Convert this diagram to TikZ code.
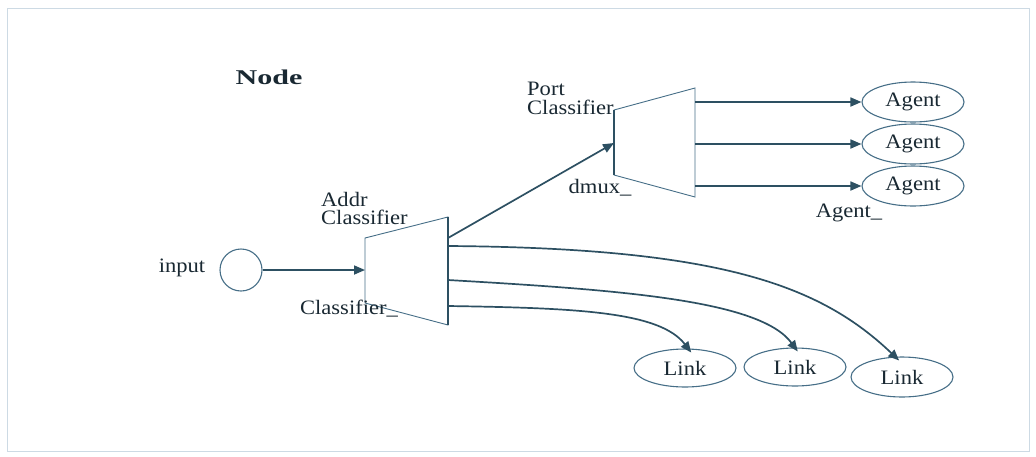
\documentclass[tikz,border=0pt]{standalone}
\usepackage{fontspec}
\setmainfont{Liberation Serif}[FakeStretch=1.1, Ligatures=NoCommon]
\usetikzlibrary{arrows.meta,shapes.geometric}
\definecolor{inkline}{RGB}{45,80,98}
\definecolor{shapeline}{RGB}{70,110,135}
\definecolor{inktext}{RGB}{25,40,50}
\definecolor{framecol}{RGB}{205,218,228}
\tikzset{
  every node/.style={text=inktext, font=\fontsize{20.5}{18.5}\selectfont},
  label/.style={inner sep=0pt},
  ell/.style={ellipse, draw=shapeline, line width=1.1pt, minimum width=102pt, minimum height=40pt, inner sep=0pt},
  demux/.style={draw=shapeline, line width=0.9pt, line join=miter},
  flow/.style={draw=inkline, line width=1.7pt, -{Triangle[length=11pt,width=9pt]}}
}
\begin{document}
\begin{tikzpicture}[x=1pt,y=-1pt]
\useasboundingbox (0,0) rectangle (1036,456);
% faint outer frame
\draw[framecol, line width=0.8pt] (7,8) rectangle (1029,451);

% title
\node[label] (title) at (269,77) {\scalebox{1.3}[1]{\fontsize{21}{21}\selectfont\bfseries Node}};

% input source
\node[circle, draw=shapeline, line width=1.1pt, minimum size=42pt, inner sep=0pt] (input) at (241,270) {};
\node[label] (inputlbl) at (182,268) {input};

% address classifier (demultiplexer trapezoid)
\draw[demux] (365,238) -- (448,217) -- (448,325) -- (365,303) -- cycle;
\draw[inkline, line width=1.3pt] (448,217) -- (448,325);
\coordinate (addrIn) at (365,270);
\coordinate (addrOutA) at (448,238);
\coordinate (addrOutB) at (448,246);
\coordinate (addrOutC) at (448,280);
\coordinate (addrOutD) at (448,306);
\node[label, align=left, anchor=north west] (addrlbl) at (321,192) {Addr\\Classifier};
\node[label] (addrname) at (349,309) {Classifier\_};

% port classifier (demultiplexer trapezoid)
\draw[demux] (614,110) -- (695,88) -- (695,197) -- (614,175) -- cycle;
\draw[inkline, line width=1.3pt] (614,110) -- (614,175);
\coordinate (portIn) at (614,143);
\coordinate (portOutA) at (695,102);
\coordinate (portOutB) at (695,144);
\coordinate (portOutC) at (695,186);
\node[label, align=left, anchor=north west] (portlbl) at (527,82) {Port\\Classifier};
\node[label] (portname) at (600,188) {dmux\_};

% agents
\node[ell] (agentA) at (913,102) {Agent};
\node[ell] (agentB) at (913,144) {Agent};
\node[ell] (agentC) at (913,186) {Agent};
\node[label] (agentname) at (849,213) {Agent\_};

% links
\node[ell, minimum height=38pt] (linkA) at (685,368) {Link};
\node[ell, minimum height=38pt] (linkB) at (795,367) {Link};
\node[ell, minimum height=40pt] (linkC) at (902,377) {Link};

% connectors
\draw[flow] (input.east) -- (addrIn);
\draw[flow] (addrOutA) -- (portIn);
\draw[flow] (portOutA) -- (agentA.west);
\draw[flow] (portOutB) -- (agentB.west);
\draw[flow] (portOutC) -- (agentC.west);
\draw[flow] (addrOutD) .. controls (580,308) and (660,312) .. ([yshift=-4pt]linkA.72);
\draw[flow] (addrOutC) .. controls (620,290) and (760,300) .. ([yshift=-4pt]linkB.82);
\draw[flow] (addrOutB) .. controls (720,248) and (820,285) .. ([yshift=-4pt]linkC.98);
\end{tikzpicture}
\end{document}
